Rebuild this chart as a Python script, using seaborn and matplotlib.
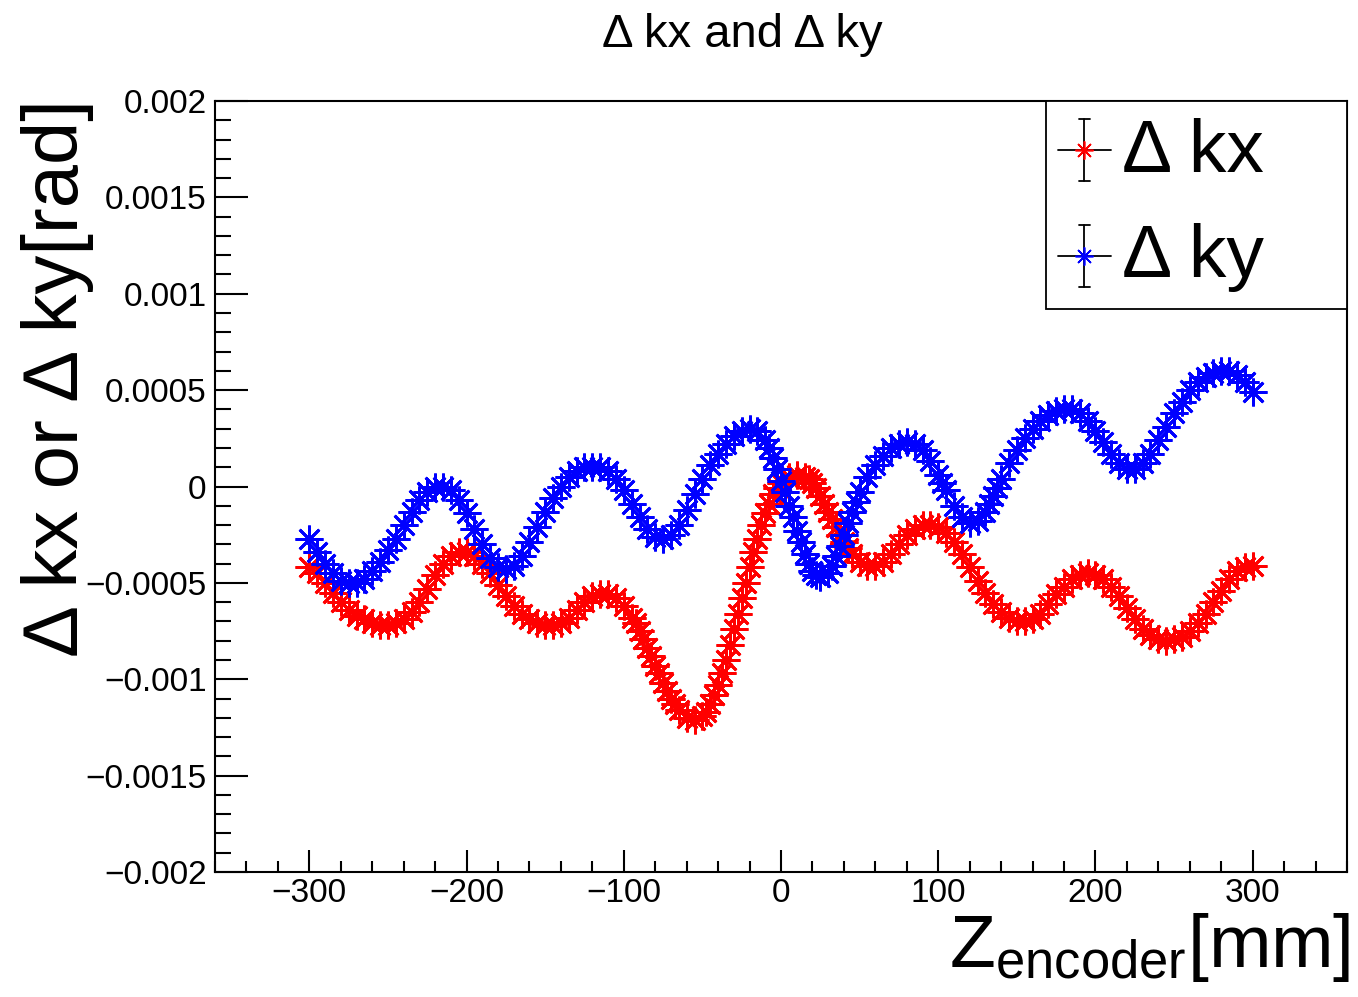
import numpy as np
import pandas as pd
import matplotlib
matplotlib.use("Agg")
import matplotlib.pyplot as plt
from matplotlib.lines import Line2D
from matplotlib.legend_handler import HandlerBase
from matplotlib.ticker import MultipleLocator, FuncFormatter
import seaborn as sns

# ---------------- data ----------------
z_start, z_stop, z_step = -300, 300, 5
z_mm = np.arange(z_start, z_stop + 1, z_step)

dkx = [
    -0.00042, -0.00045, -0.00050, -0.00055, -0.00060, -0.00064, -0.00067, -0.00069, -0.00071, -0.00072,
    -0.00072, -0.00071, -0.00069, -0.00065, -0.00060, -0.00053, -0.00046, -0.00040, -0.00036, -0.00034,
    -0.00034, -0.00036, -0.00040, -0.00045, -0.00051, -0.00057, -0.00062, -0.00066, -0.00069, -0.00071,
    -0.00072, -0.00072, -0.00071, -0.00068, -0.00064, -0.00060, -0.00057, -0.00056, -0.00056, -0.00058,
    -0.00062, -0.00068, -0.00075, -0.00084, -0.00093, -0.00102, -0.00110, -0.00116, -0.00120, -0.00121,
    -0.00119, -0.00113, -0.00103, -0.00090, -0.00074, -0.00058, -0.00042, -0.00027, -0.00014, -0.00004,
    0.00002, 0.00005, 0.00006, 0.00005, 0.00002, -0.00005, -0.00013, -0.00021, -0.00029, -0.00035,
    -0.00039, -0.00041, -0.00041, -0.00039, -0.00035, -0.00030, -0.00025, -0.00022, -0.00020, -0.00020,
    -0.00021, -0.00024, -0.00029, -0.00035, -0.00042, -0.00049, -0.00055, -0.00061, -0.00065, -0.00068,
    -0.00070, -0.00070, -0.00069, -0.00066, -0.00061, -0.00056, -0.00052, -0.00048, -0.00046, -0.00045,
    -0.00046, -0.00048, -0.00052, -0.00057, -0.00063, -0.00069, -0.00074, -0.00077, -0.00079, -0.00080,
    -0.00079, -0.00078, -0.00075, -0.00071, -0.00066, -0.00060, -0.00054, -0.00048, -0.00044, -0.00042,
    -0.00041,
]
# extra readings on the steep parts of Δkx
dkx_extra_z = [-92.5, -87.5, -82.5, -77.5, -72.5, -67.5, -47.5, -42.5, -37.5, -32.5, -27.5, -22.5,
               -17.5, -12.5, -7.5, -2.5, 17.5, 22.5, 27.5, 32.5, 37.5, 42.5]
dkx_extra = [-0.00071, -0.00079, -0.00088, -0.00097, -0.00106, -0.00113, -0.00117, -0.00108,
             -0.00097, -0.00082, -0.00066, -0.00050, -0.00034, -0.00020, -0.00009, -0.00001,
             0.00004, -0.00001, -0.00009, -0.00017, -0.00025, -0.00032]

dky = [
    -0.00027, -0.00034, -0.00040, -0.00045, -0.00049, -0.00050, -0.00050, -0.00048, -0.00044, -0.00039,
    -0.00033, -0.00027, -0.00020, -0.00013, -0.00007, -0.00003, 0.00000, 0.00000, -0.00002, -0.00007,
    -0.00014, -0.00022, -0.00030, -0.00037, -0.00042, -0.00043, -0.00041, -0.00036, -0.00029, -0.00021,
    -0.00013, -0.00006, 0.00000, 0.00005, 0.00008, 0.00010, 0.00010, 0.00010, 0.00008, 0.00004,
    -0.00002, -0.00009, -0.00016, -0.00022, -0.00026, -0.00027, -0.00025, -0.00020, -0.00012, -0.00004,
    0.00004, 0.00011, 0.00017, 0.00022, 0.00026, 0.00029, 0.00030, 0.00029, 0.00024, 0.00015,
    0.00003, -0.00010, -0.00023, -0.00035, -0.00044, -0.00047, -0.00045, -0.00036, -0.00025, -0.00013,
    -0.00003, 0.00005, 0.00011, 0.00016, 0.00020, 0.00022, 0.00023, 0.00022, 0.00019, 0.00013,
    0.00006, -0.00002, -0.00010, -0.00016, -0.00019, -0.00018, -0.00013, -0.00005, 0.00004, 0.00012,
    0.00019, 0.00025, 0.00030, 0.00034, 0.00037, 0.00039, 0.00040, 0.00040, 0.00038, 0.00034,
    0.00029, 0.00023, 0.00017, 0.00012, 0.00009, 0.00009, 0.00012, 0.00017, 0.00024, 0.00031,
    0.00038, 0.00044, 0.00050, 0.00054, 0.00057, 0.00059, 0.00060, 0.00060, 0.00058, 0.00054,
    0.00049,
]
# extra readings on the steep parts of Δky
dky_extra_z = [-7.5, -2.5, 2.5, 7.5, 12.5, 17.5, 22.5, 32.5, 37.5, 42.5, 47.5, 102.5, 132.5, 137.5]
dky_extra = [0.00020, 0.00009, -0.00003, -0.00016, -0.00029, -0.00040, -0.00046, -0.00041,
             -0.00031, -0.00019, -0.00008, 0.00002, -0.00009, -0.00001]

series_names = ["\u0394 kx", "\u0394 ky"]
series_colors = ["#ff0000", "#0000ff"]
title_text = "\u0394 kx and \u0394 ky"
ylabel_text = "\u0394 kx or \u0394 ky[rad]"
xlabel_text = r"Z$_{\mathrm{encoder}}$[mm]"

df = pd.concat([
    pd.DataFrame({"z": np.concatenate([z_mm, dkx_extra_z]), "v": dkx + dkx_extra, "s": series_names[0]}),
    pd.DataFrame({"z": np.concatenate([z_mm, dky_extra_z]), "v": dky + dky_extra, "s": series_names[1]}),
]).sort_values(["s", "z"])

# ---------------- style ----------------
sns.set_style("white")
plt.rcParams["font.family"] = ["Liberation Sans", "DejaVu Sans"]
plt.rcParams["mathtext.fontset"] = "custom"
plt.rcParams["mathtext.rm"] = "Liberation Sans"
plt.rcParams["mathtext.it"] = "Liberation Sans:italic"
plt.rcParams["axes.unicode_minus"] = True
plt.rcParams["text.color"] = "black"
plt.rcParams["axes.labelcolor"] = "black"
plt.rcParams["xtick.color"] = "black"
plt.rcParams["ytick.color"] = "black"

W, H = 1358, 997
fig = plt.figure(figsize=(W / 100, H / 100), dpi=100)
ax = fig.add_axes([215 / W, 1 - 872 / H, 1132 / W, 771 / H])

asterisk = (8, 2, 0)
for name, col in zip(series_names, series_colors):
    sub = df[df["s"] == name]
    sns.lineplot(data=sub, x="z", y="v", ax=ax, color=col, linestyle="",
                 marker=asterisk, markersize=20, markeredgewidth=2.0,
                 markeredgecolor=col, estimator=None, sort=False, legend=False)

ax.set_xlim(-360, 360)
ax.set_ylim(-0.002, 0.002)
ax.set_xlabel("")
ax.set_ylabel("")

for sp in ax.spines.values():
    sp.set_visible(True)
    sp.set_linewidth(1.5)
    sp.set_color("black")

ax.xaxis.set_major_locator(MultipleLocator(100))
ax.xaxis.set_minor_locator(MultipleLocator(20))
ax.yaxis.set_major_locator(MultipleLocator(0.0005))
ax.yaxis.set_minor_locator(MultipleLocator(0.0001))


def yfmt(v, pos):
    s = f"{v:.4f}".rstrip("0").rstrip(".")
    if s in ("-0", "0", ""):
        s = "0"
    return s.replace("-", "\u2212")


def xfmt(v, pos):
    s = f"{v:.0f}"
    if s == "-0":
        s = "0"
    return s.replace("-", "\u2212")


ax.yaxis.set_major_formatter(FuncFormatter(yfmt))
ax.xaxis.set_major_formatter(FuncFormatter(xfmt))

ax.tick_params(axis="both", which="both", direction="in", width=1.5,
               bottom=True, left=True, top=False, right=False,
               colors="black", labelsize=24)
ax.tick_params(axis="y", which="major", length=24, pad=6)
ax.tick_params(axis="y", which="minor", length=11.5)
ax.tick_params(axis="x", which="major", length=16, pad=4)
ax.tick_params(axis="x", which="minor", length=8)

# titles
fig.text(742 / W, 1 - 47 / H, title_text, ha="center", va="baseline", fontsize=34)
ax.set_ylabel(ylabel_text, fontsize=56, loc="top")
ax.yaxis.set_label_coords(-0.107, 1.003)
ax.set_xlabel(xlabel_text, fontsize=54, loc="right")
ax.xaxis.set_label_coords(1.003, -0.05)


# ---------------- legend ----------------
class ErrorCrossHandler(HandlerBase):
    def create_artists(self, legend, orig_handle, xdescent, ydescent,
                       width, height, fontsize, trans):
        shift = -3.0
        x0 = -xdescent + shift
        x1 = width - xdescent + shift
        cx = (x0 + x1) / 2
        cy = height / 2 - ydescent - 3.5
        half_v = 0.41 * fontsize
        cap = 4.0
        arts = [
            Line2D([x0, x1], [cy, cy], color="black", lw=1.3),
            Line2D([cx, cx], [cy - half_v, cy + half_v], color="black", lw=1.3),
            Line2D([cx - cap, cx + cap], [cy + half_v, cy + half_v], color="black", lw=1.3),
            Line2D([cx - cap, cx + cap], [cy - half_v, cy - half_v], color="black", lw=1.3),
            Line2D([cx], [cy], linestyle="", marker=asterisk, markersize=13,
                   markeredgewidth=1.2, markeredgecolor=orig_handle.get_color(),
                   color=orig_handle.get_color()),
        ]
        for a in arts:
            a.set_transform(trans)
        return arts


proxies = [Line2D([], [], color=c, label=n) for n, c in zip(series_names, series_colors)]
leg = ax.legend(handles=proxies, handler_map={Line2D: ErrorCrossHandler()},
                loc="upper left", bbox_to_anchor=(0.734, 0.0, 0.266, 1.0), mode="expand",
                borderaxespad=0.0, fontsize=54, frameon=True, fancybox=False,
                framealpha=1.0, edgecolor="black", handlelength=0.70,
                handletextpad=0.095, labelspacing=0.49, borderpad=0.22)
leg.get_frame().set_linewidth(1.3)

fig.savefig("out.png", dpi=100)
